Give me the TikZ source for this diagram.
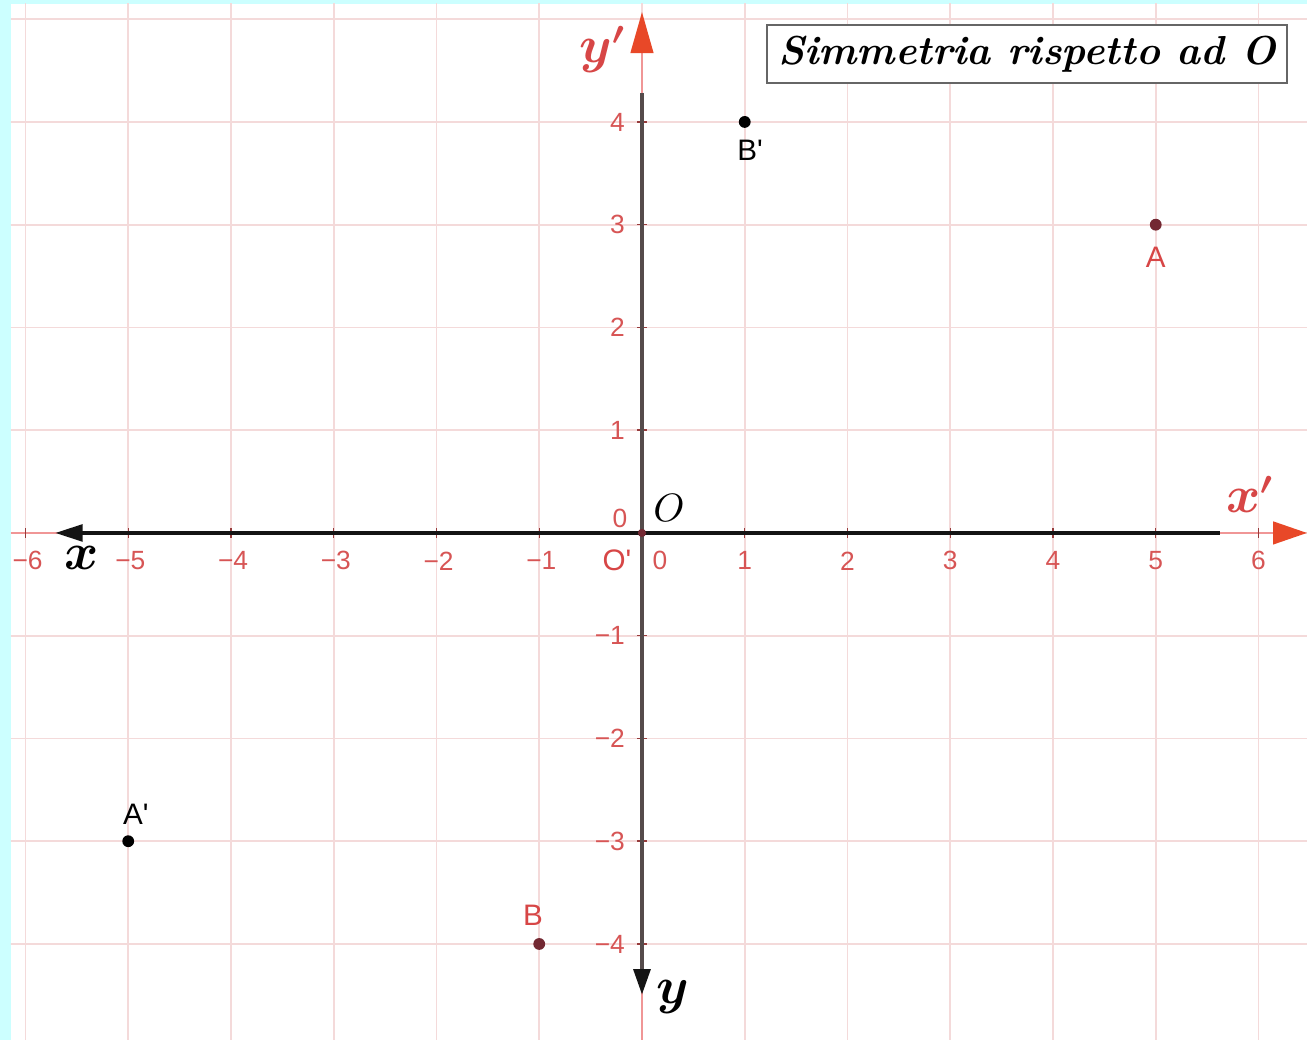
\documentclass[tikz,border=0pt]{standalone}
\usepackage{fontspec}
\usepackage{amsmath}
\usetikzlibrary{arrows.meta}
\newfontfamily\labfont{Liberation Sans}
\definecolor{cyanbg}{RGB}{204,255,255}
\definecolor{gridc}{RGB}{244,218,218}
\definecolor{redaxis}{RGB}{240,150,150}
\definecolor{redarrow}{RGB}{232,72,40}
\definecolor{ticklab}{RGB}{215,85,85}
\definecolor{ptred}{RGB}{115,40,50}
\definecolor{labred}{RGB}{215,70,70}
\definecolor{darkx}{RGB}{20,20,20}
\definecolor{darky}{RGB}{85,75,75}
\begin{document}
\begin{tikzpicture}[x=1cm,y=1cm,
  gridline/.style={gridc, line width=0.45pt},
  raxis/.style={redaxis, line width=0.7pt},
  bxaxis/.style={darkx, line width=1.2pt},
  byaxis/.style={darky, line width=1.2pt},
  tickmark/.style={ticklab!70!black, line width=0.4pt},
  ticklabel/.style={ticklab, font=\labfont\fontsize{7.3}{8}\selectfont, inner sep=0pt},
  axlab/.style={font=\fontsize{13.5}{15}\selectfont, inner sep=0pt},
  ptdot/.style={circle, fill, inner sep=0pt, minimum size=0.115cm},
  ptlab/.style={font=\labfont\fontsize{8.2}{9}\selectfont, inner sep=0pt},
  titlebox/.style={draw=black!60, line width=0.6pt, fill=white, minimum width=5.06cm, minimum height=0.564cm, inner sep=0pt,
     font=\fontsize{11.2}{13}\selectfont\bfseries\itshape}
]
\useasboundingbox (-6.248,-4.934) rectangle (6.472,5.187);
\fill[cyanbg] (-6.248,-4.934) rectangle (6.472,5.187);
\fill[white] (-6.141,-4.934) rectangle (6.472,5.148);
\begin{scope}
  \clip (-6.141,-4.934) rectangle (6.472,5.148);
  \foreach \i in {-6,...,6} \draw[gridline] (\i,-5) -- (\i,5.3);
  \foreach \j in {-4,...,5} \draw[gridline] (-6.3,\j) -- (6.6,\j);
\end{scope}
% red (original) axes
\draw[raxis, -{Triangle[length=0.33cm,width=0.22cm,color=redarrow]}] (-6.141,0) -- (6.472,0);
\draw[raxis, -{Triangle[length=0.40cm,width=0.22cm,color=redarrow]}] (0,-4.934) -- (0,5.07);
\foreach \i in {-6,...,-1,1,2,...,6} \draw[tickmark] (\i,0.045) -- (\i,-0.045);
\foreach \j in {-4,...,-1,1,2,...,4} \draw[tickmark] (-0.045,\j) -- (0.045,\j);
% black (transformed) axes
\coordinate (xs) at (5.625,0);
\coordinate (xe) at (-5.713,0);
\coordinate (ys) at (0,4.282);
\coordinate (ye) at (0,-4.496);
\draw[bxaxis, -{Triangle[length=0.27cm,width=0.16cm]}] (xs) -- (xe);
\draw[byaxis, -{Triangle[length=0.25cm,width=0.16cm,color=darkx]}] (ys) -- (ye);
% origin
\node[ptdot, ptred, minimum size=0.08cm] (O) at (0,0) {};
% tick labels
\foreach \i in {-6,...,-1} \node[ticklabel] (tx\i) at (\i+0.02,-0.272) {−\the\numexpr-\i\relax};
\foreach \i in {1,...,6} \node[ticklabel] (tx\i) at (\i,-0.272) {\i};
\foreach \j in {-4,...,-1} \node[ticklabel, anchor=east] (ty\j) at (-0.16,\j) {−\the\numexpr-\j\relax};
\foreach \j in {1,...,4} \node[ticklabel, anchor=east] (ty\j) at (-0.16,\j) {\j};
\node[ticklabel] (zeroA) at (-0.214,0.146) {0};
\node[ticklabel] (zeroB) at (0.175,-0.272) {0};
\node[ptlab, labred] (Oprime) at (-0.243,-0.265) {O'};
% axis labels
\node[axlab, black, anchor=base] (xlab) at (-5.45,-0.36) {$\boldsymbol{x}$};
\node[axlab, black, anchor=base] (ylab) at (0.302,-4.584) {$\boldsymbol{y}$};
\node[axlab, labred, anchor=base] (xplab) at (5.917,0.195) {$\boldsymbol{x'}$};
\node[axlab, labred, anchor=base] (yplab) at (-0.38,4.574) {$\boldsymbol{y'}$};
\node[font=\fontsize{11}{13}\selectfont, inner sep=0pt] (Olab) at (0.263,0.243) {$O$};
% points
\node[ptdot, ptred] (A) at (5,3) {};
\node[ptdot, ptred] (B) at (-1,-4) {};
\node[ptdot, black] (Ap) at (-5,-3) {};
\node[ptdot, black] (Bp) at (1,4) {};
\node[ptlab, labred] (Alab) at (5,2.686) {A};
\node[ptlab, labred] (Blab) at (-1.061,-3.718) {B};
\node[ptlab, black] (Aplab) at (-4.925,-2.735) {A'};
\node[ptlab, black] (Bplab) at (1.051,3.727) {B'};
% title
\node[titlebox] (title) at (3.747,4.662) {Simmetria rispetto ad O};
\end{tikzpicture}
\end{document}
